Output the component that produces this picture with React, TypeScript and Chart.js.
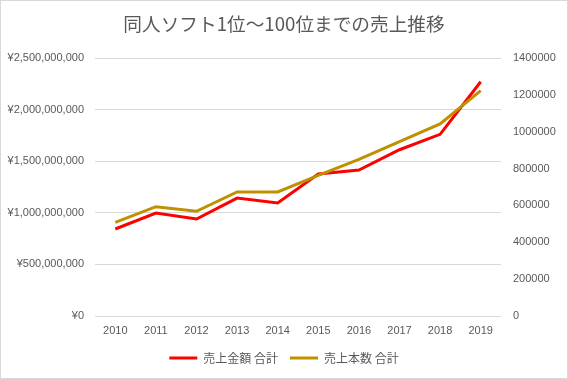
import React, { useEffect, useRef } from "react";
import { Chart, registerables } from "chart.js";

Chart.register(...registerables);

const years = ["2010", "2011", "2012", "2013", "2014", "2015", "2016", "2017", "2018", "2019"];
const salesAmount = [843000000, 998000000, 940000000, 1143000000, 1095000000, 1376000000, 1415000000, 1611000000, 1760000000, 2270000000];
const salesCount = [508000, 593000, 568000, 673000, 673000, 763000, 850000, 946000, 1042000, 1223000];
const titleText = "同人ソフト1位〜100位までの売上推移";
const amountLabel = "売上金額 合計";
const countLabel = "売上本数 合計";

const TEXT = "#595959";
const GRID = "#d9d9d9";
const JP = "'Noto Sans CJK JP', 'Noto Sans', sans-serif";
const NUM = "'Liberation Sans', 'Noto Sans', sans-serif";

export default function App() {
  const ref = useRef<HTMLCanvasElement | null>(null);
  useEffect(() => {
    document.body.style.margin = "0";
    const chart = new Chart(ref.current as HTMLCanvasElement, {
      type: "line",
      data: {
        labels: years,
        datasets: [
          {
            label: amountLabel,
            data: salesAmount,
            borderColor: "#ff0000",
            backgroundColor: "#ff0000",
            borderWidth: 3,
            pointRadius: 0,
            tension: 0,
            yAxisID: "y",
            order: 1,
          },
          {
            label: countLabel,
            data: salesCount,
            borderColor: "#bf9000",
            backgroundColor: "#bf9000",
            borderWidth: 3,
            pointRadius: 0,
            tension: 0,
            yAxisID: "y1",
            order: 0,
          },
        ],
      },
      options: {
        responsive: false,
        animation: false,
        devicePixelRatio: 1,
        layout: { padding: { top: 0, bottom: 5, left: 0, right: 0 } },
        plugins: {
          title: {
            display: true,
            text: titleText,
            color: TEXT,
            font: { family: JP, size: 18.67, weight: "normal" },
            padding: { top: 12.8, bottom: 22.8 },
          },
          legend: {
            position: "bottom",
            labels: {
              color: TEXT,
              font: { family: JP, size: 12 },
              usePointStyle: true,
              pointStyle: "line",
              pointStyleWidth: 28,
              padding: 12,
              sort: (a: any, b: any) => a.datasetIndex - b.datasetIndex,
            },
          },
          tooltip: { enabled: false },
        },
        scales: {
          x: {
            offset: true,
            grid: { display: false, drawTicks: false },
            border: { display: false },
            ticks: { color: TEXT, font: { family: NUM, size: 11 }, padding: 8, maxRotation: 0 },
            afterFit: (s: any) => { s.height = 24; },
          },
          y: {
            position: "left",
            min: 0,
            max: 2500000000,
            grid: { color: GRID, lineWidth: 1, drawTicks: false },
            border: { display: false },
            ticks: {
              stepSize: 500000000,
              color: TEXT,
              font: { family: NUM, size: 11 },
              padding: 11,
              callback: (v: any) => "¥" + Number(v).toLocaleString("en-US"),
            },
            afterFit: (s: any) => { s.width = 95; },
          },
          y1: {
            position: "right",
            min: 0,
            max: 1400000,
            grid: { display: false, drawTicks: false },
            border: { display: false },
            ticks: {
              stepSize: 200000,
              color: TEXT,
              font: { family: NUM, size: 11 },
              padding: 12,
              callback: (v: any) => String(v),
            },
            afterFit: (s: any) => { s.width = 67; },
          },
        },
      },
    } as any);
    return () => chart.destroy();
  }, []);
  return (
    <div style={{ position: "fixed", left: 0, top: 0, width: 568, height: 379, background: "#fff" }}>
      <canvas ref={ref} width={568} height={379} style={{ display: "block" }} />
      <div
        style={{
          position: "absolute",
          left: 0,
          top: 0,
          width: 568,
          height: 379,
          boxSizing: "border-box",
          border: "1px solid #d9d9d9",
          pointerEvents: "none",
        }}
      />
    </div>
  );
}
